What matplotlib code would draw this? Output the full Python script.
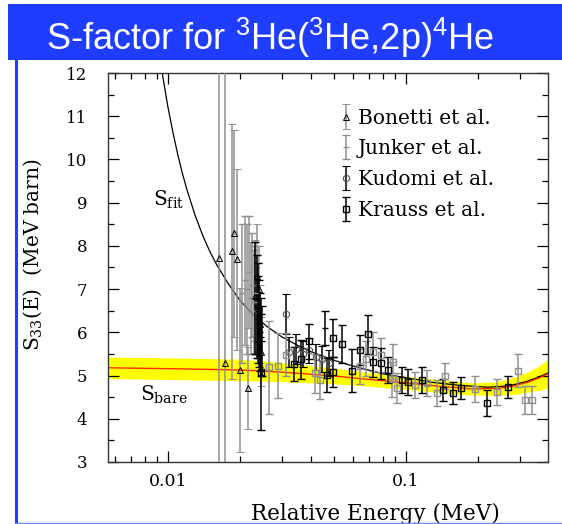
import numpy as np
import matplotlib
matplotlib.use('Agg')
import matplotlib.pyplot as plt
from matplotlib.patches import Rectangle
from matplotlib.lines import Line2D
from matplotlib.ticker import MultipleLocator, NullFormatter
from matplotlib.legend_handler import HandlerErrorbar

# ---- data (E in MeV, S in MeV barn) ----
bonetti_E = [0.01642, 0.01741, 0.01852, 0.01900, 0.01950, 0.02006, 0.02160, 0.02330, 0.02360, 0.02390, 0.02410, 0.02430, 0.02450]
bonetti_S = [7.73, 5.30, 7.88, 8.29, 7.69, 5.13, 4.72, 6.83, 7.30, 6.60, 7.00, 6.20, 5.55]
bonetti_err = [9.0, 9.0, 2.95, 2.4, 2.1, 1.9, 0.95, 1.3, 1.2, 1.0, 1.0, 0.9, 0.8]

junker_E = [0.0205, 0.0210, 0.0215, 0.0219, 0.0223, 0.0226, 0.0229, 0.0232, 0.0235]
junker_S = [6.9, 7.2, 7.0, 7.4, 6.8, 7.1, 6.7, 6.9, 6.5]
junker_err = [1.6, 1.5, 1.5, 1.3, 1.3, 1.2, 1.2, 1.1, 1.0]

junker2_E = [0.0233, 0.0236, 0.0238, 0.0240, 0.0242, 0.0244, 0.0246, 0.0248, 0.0456]
junker2_S = [6.8, 6.6, 6.5, 6.3, 6.2, 6.0, 5.9, 5.8, 6.10]
junker2_err = [1.3, 1.2, 1.1, 1.0, 1.0, 0.9, 0.9, 0.8, 0.4]

kudomi_E = [0.0312, 0.0322, 0.0345, 0.0368, 0.0392, 0.0418, 0.0445, 0.0475]
kudomi_S = [6.42, 5.55, 5.62, 5.50, 5.58, 5.42, 5.38, 5.30]
kudomi_err = [0.47, 0.35, 0.35, 0.30, 0.30, 0.30, 0.30, 0.30]

krauss_E = [0.0246, 0.0339, 0.0362, 0.0391, 0.0467, 0.0492, 0.0492, 0.0541, 0.0592, 0.0644,
            0.0694, 0.0725, 0.0784, 0.0843, 0.0959, 0.1022, 0.1163, 0.1426, 0.1573, 0.1700,
            0.2198, 0.2690]
krauss_S = [5.08, 5.27, 5.38, 5.79, 5.01, 5.09, 5.87, 5.73, 5.11, 5.59,
            5.95, 5.31, 5.28, 5.13, 4.90, 4.86, 4.90, 4.67, 4.59, 4.71,
            4.37, 4.73]
krauss_err = [1.35, 0.40, 0.45, 0.40, 0.40, 0.35, 0.45, 0.45, 0.50, 0.35,
              0.45, 0.35, 0.35, 0.30, 0.30, 0.30, 0.30, 0.25, 0.25, 0.25,
              0.30, 0.25]

krauss2_E = [0.0266, 0.0291, 0.0313, 0.0414, 0.0435, 0.0644, 0.0679, 0.0729, 0.0786, 0.0871,
             0.0885, 0.0919, 0.1090, 0.1220, 0.1344, 0.1458, 0.1953, 0.2422, 0.2944, 0.3160,
             0.3400]
krauss2_S = [5.19, 5.23, 5.48, 5.05, 4.90, 5.21, 5.39, 5.55, 5.48, 4.91,
             5.32, 4.71, 4.78, 4.82, 4.59, 4.99, 4.69, 4.61, 5.11, 4.43,
             4.43]
krauss2_err = [1.08, 0.75, 0.50, 0.45, 0.45, 0.40, 0.40, 0.45, 0.40, 0.40,
               0.40, 0.35, 0.30, 0.30, 0.30, 0.30, 0.30, 0.30, 0.38, 0.33,
               0.33]

# bare S-factor (red line) and its band (yellow)
bare_E = [0.0056, 0.010, 0.020, 0.030, 0.050, 0.070, 0.100, 0.140, 0.190, 0.240, 0.290, 0.330, 0.360, 0.395]
bare_S = [5.18, 5.16, 5.13, 5.08, 4.99, 4.91, 4.83, 4.75, 4.69, 4.70, 4.77, 4.86, 4.94, 5.04]
bare_w = [0.25, 0.25, 0.25, 0.22, 0.18, 0.16, 0.15, 0.15, 0.14, 0.16, 0.20, 0.24, 0.28, 0.33]

# screened fit (black line)
fit_E = [0.0090, 0.0095, 0.0100, 0.0105, 0.0110, 0.0115, 0.0120, 0.0130, 0.0140, 0.0150,
         0.0160, 0.0180, 0.0200, 0.0230, 0.0260, 0.0300, 0.0350, 0.0400, 0.0500, 0.0600,
         0.0800, 0.1000, 0.1300, 0.1700, 0.2200, 0.2700, 0.3200, 0.3600, 0.3950]
fit_S = [12.82, 11.94, 11.21, 10.62, 10.11, 9.68, 9.31, 8.71, 8.24, 7.87,
         7.57, 7.11, 6.75, 6.39, 6.14, 5.90, 5.70, 5.55, 5.35, 5.22,
         5.04, 4.95, 4.84, 4.77, 4.73, 4.76, 4.86, 4.96, 5.06]

GRAY = '#8f8f8f'
BLUE = '#1f3dff'

plt.rcParams['font.family'] = ['DejaVu Serif']
plt.rcParams['mathtext.fontset'] = 'custom'
plt.rcParams['mathtext.rm'] = 'Liberation Sans'   # only the title uses the custom set

fig = plt.figure(figsize=(5.62, 5.24), dpi=100)

# blue title banner + blue frame lines
fig.patches.append(Rectangle((8/562, 1 - 60/524), 554/562, 56/524, transform=fig.transFigure,
                             facecolor=BLUE, edgecolor='none'))
fig.lines.append(Line2D([15.5/562, 15.5/562], [0, 1 - 60/524], transform=fig.transFigure,
                        color=BLUE, lw=2.2))
fig.lines.append(Line2D([15/562, 1], [1.5/524, 1.5/524], transform=fig.transFigure,
                        color='#6f86ff', lw=1.0))
fig.text(270/562, 1 - 50/524, r'S-factor for $^{\mathrm{3}}$He($^{\mathrm{3}}$He,2p)$^{\mathrm{4}}$He',
         color='white', fontsize=26, family='Liberation Sans', math_fontfamily='custom',
         ha='center', va='baseline')

ax = fig.add_axes([108/562, 62/524, 440/562, 389/524])

ax.fill_between(bare_E, np.array(bare_S) - np.array(bare_w), np.array(bare_S) + np.array(bare_w),
                color='#ffff00', lw=0, zorder=1)
ax.plot(fit_E, fit_S, color='black', lw=0.9, zorder=2)
ax.plot(bare_E, bare_S, color='#ff2a00', lw=1.0, zorder=2.5)

eb = dict(elinewidth=1.1, capsize=3, capthick=1.0, zorder=3)
h_bon = ax.errorbar(bonetti_E, bonetti_S, yerr=bonetti_err, fmt='^', ms=4.5, mfc='none',
                    mec='black', mew=0.7, ecolor=GRAY, **eb)
h_jun = ax.errorbar(junker_E, junker_S, yerr=junker_err, fmt='_', ms=4, color=GRAY, ecolor=GRAY, **eb)
ax.errorbar(junker2_E, junker2_S, yerr=junker2_err, fmt='_', ms=4, color='black', ecolor='black', **eb)
h_kud = ax.errorbar(kudomi_E, kudomi_S, yerr=kudomi_err, fmt='o', ms=4.5, mfc='none',
                    mec='#555555', mew=0.8, ecolor='black', **eb)
ax.errorbar(krauss2_E, krauss2_S, yerr=krauss2_err, fmt='s', ms=4.5, mfc='none',
            mec=GRAY, mew=1.0, ecolor=GRAY, **eb)
h_kra = ax.errorbar(krauss_E, krauss_S, yerr=krauss_err, fmt='s', ms=4.5, mfc='none',
                    mec='black', mew=1.0, ecolor='black', **eb)

ax.text(0.00865, 9.06, r'S$_{\rm fit}$', fontsize=14.5, math_fontfamily='dejavuserif',
        ha='left', va='center')
ax.text(0.00763, 4.55, r'S$_{\rm bare}$', fontsize=14.5, math_fontfamily='dejavuserif',
        ha='left', va='center')

ax.set_xscale('log')
ax.set_xlim(0.0056, 0.395)
ax.set_ylim(3, 12)
ax.set_xticks([0.01, 0.1])
ax.set_xticklabels(['0.01', '0.1'])
ax.xaxis.set_minor_formatter(NullFormatter())
ax.yaxis.set_major_locator(MultipleLocator(1))
ax.yaxis.set_minor_locator(MultipleLocator(0.5))
ax.tick_params(which='both', direction='in', top=True, right=True, labelsize=12.5, width=0.9)
ax.tick_params(which='major', length=8)
ax.tick_params(which='minor', length=4)
ax.tick_params(axis='x', pad=8)
ax.tick_params(axis='y', pad=15, labelsize=12)
for s in ax.spines.values():
    s.set_linewidth(1.0)
    s.set_color('#333333')

ax.set_xlabel('Relative Energy (MeV)', fontsize=15.5)
ax.xaxis.set_label_coords((375 - 108)/440, -0.105)
ax.set_ylabel(r'S$_{33}$(E)  (MeV barn)', fontsize=14.5)
ax.yaxis.set_label_coords((44 - 108)/440, (462 - 255)/389)
ax.yaxis.label.set_math_fontfamily('dejavuserif')

leg = ax.legend([h_bon, h_jun, h_kud, h_kra],
                ['Bonetti et al.', 'Junker et al.', 'Kudomi et al.', 'Krauss et al.'],
                loc='upper left', bbox_to_anchor=(0.486, 0.955), frameon=False, fontsize=14.5,
                handlelength=0.6, handletextpad=0.3, labelspacing=0.58,
                handler_map={type(h_bon): HandlerErrorbar(yerr_size=0.6)})

fig.savefig('out.png', dpi=100)
